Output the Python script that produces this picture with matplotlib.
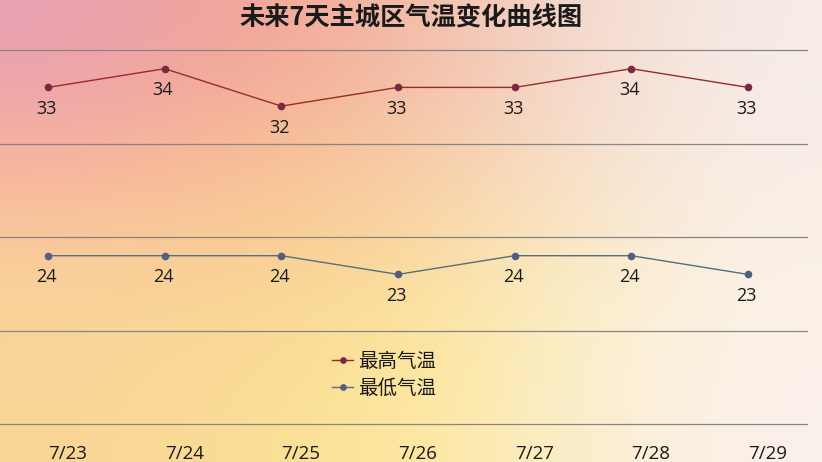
import matplotlib
matplotlib.use("Agg")
import matplotlib.pyplot as plt
import numpy as np

plt.rcParams['font.family'] = ['Open Sans', 'Noto Sans CJK SC', 'DejaVu Sans']

# ---- data ----
dates = ["7/23", "7/24", "7/25", "7/26", "7/27", "7/28", "7/29"]
high_temps = [33, 34, 32, 33, 33, 34, 33]
low_temps = [24, 24, 24, 23, 24, 24, 23]
series_names = ["最高气温", "最低气温"]
title = "未来7天主城区气温变化曲线图"
y_ticks = [15, 20, 25, 30, 35]

W, H = 822, 462
fig = plt.figure(figsize=(W / 100, H / 100), dpi=100)

# ---- background gradient ----
bg_colors = np.array([
    [(232, 162, 178), (244, 163, 148), (242, 188, 168), (245, 218, 205), (246, 236, 232)],
    [(246, 172, 162), (247, 186, 148), (246, 200, 165), (246, 222, 205), (248, 238, 232)],
    [(249, 200, 155), (249, 202, 148), (250, 214, 160), (250, 231, 198), (250, 240, 232)],
    [(250, 214, 155), (250, 216, 148), (252, 228, 152), (252, 240, 202), (250, 241, 233)],
    [(250, 214, 150), (250, 221, 150), (253, 232, 155), (252, 238, 205), (250, 241, 236)],
], dtype=float) / 255.0
bg_ax = fig.add_axes([0, 0, 1, 1], zorder=-10)
bg_ax.imshow(bg_colors, extent=[0, 1, 0, 1], origin='upper', aspect='auto',
             interpolation='bicubic')
bg_ax.set_axis_off()

# ---- main axes ----
left_px, right_px = 0, 807
top_px, bot_px = 50, 424
ax = fig.add_axes([left_px / W, (H - bot_px) / H, (right_px - left_px) / W,
                   (bot_px - top_px) / H])
ax.patch.set_alpha(0)
x = np.arange(len(dates))
px0, px6 = 48, 748
step = (px6 - px0) / 6
ax.set_xlim(-(px0 - left_px) / step, 6 + (right_px - px6) / step)
ax.set_ylim(y_ticks[0], y_ticks[-1])
ax.set_yticks(y_ticks)
ax.yaxis.grid(True, color='#858585', linewidth=0.9)
for gl in ax.get_ygridlines():
    gl.set_clip_on(False)
ax.set_axisbelow(True)
for s in ax.spines.values():
    s.set_visible(False)
ax.tick_params(axis='y', left=False, labelleft=False)
ax.set_xticks(x)
ax.set_xticklabels(dates, fontsize=13.5, color='#1a1a1a', ha='left')
ax.tick_params(axis='x', length=0, pad=15)

l1, = ax.plot(x, high_temps, color='#9a2b2b', linewidth=1.0, marker='o',
              markersize=4.5, markerfacecolor='#7a2a40', markeredgecolor='#7a2a40',
              label=series_names[0], zorder=3)
l2, = ax.plot(x, low_temps, color='#52707e', linewidth=1.0, marker='o',
              markersize=4.5, markerfacecolor='#525f80', markeredgecolor='#525f80',
              label=series_names[1], zorder=3)

for xi, v in zip(x, high_temps):
    ax.annotate(str(v), (xi, v), xytext=(-1.2, -15.5), textcoords='offset points',
                ha='center', va='center', fontsize=13, color='#1a1a1a')
for xi, v in zip(x, low_temps):
    ax.annotate(str(v), (xi, v), xytext=(-1.2, -15.5), textcoords='offset points',
                ha='center', va='center', fontsize=13, color='#1a1a1a')

fig.text(411 / W, (H - 18) / H, title, ha='center', va='center', fontsize=18.2,
         fontweight='bold', color='#1a1a1a',
         family=['Noto Sans CJK SC', 'DejaVu Sans'])

leg = fig.legend(handles=[l1, l2], loc='center',
                 bbox_to_anchor=(384 / W, (H - 374.5) / H), frameon=False,
                 handlelength=1.1, handletextpad=0.25,
                 labelspacing=0.3, borderpad=0, markerscale=0.85,
                 prop={'family': ['Noto Sans CJK SC', 'DejaVu Sans'], 'size': 14})
for t in leg.get_texts():
    t.set_color('#1a1a1a')

fig.savefig("out.png", dpi=100)
